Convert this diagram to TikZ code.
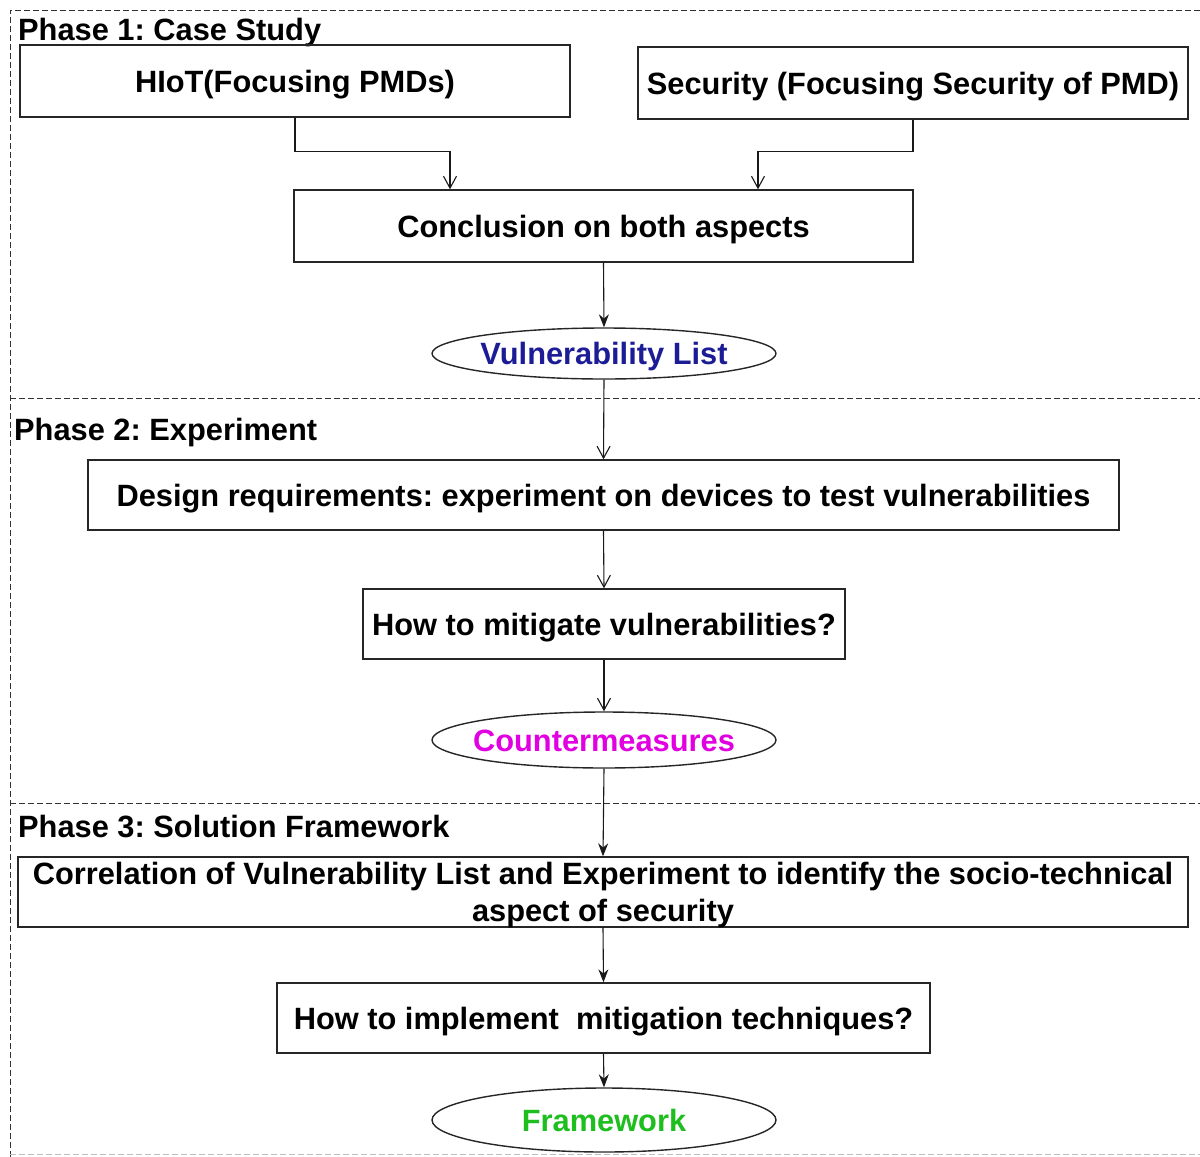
\documentclass[tikz,border=0pt]{standalone}
\usepackage{fontspec}
\setmainfont{Liberation Sans}
\usetikzlibrary{arrows.meta,shapes.geometric}
\definecolor{vulnblue}{RGB}{28,28,150}
\definecolor{cmagenta}{RGB}{225,0,225}
\definecolor{fwgreen}{RGB}{30,190,30}
\frenchspacing
% ellipse label of zero width, so the ellipse keeps its set size
\newcommand{\outcometext}[1]{\makebox[0pt]{#1}}
\begin{document}
\begin{tikzpicture}[x=1pt,y=-1pt,
  every node/.style={font=\fontsize{30.8}{37}\selectfont\bfseries},
  capcentred/.style={text height=22pt, text depth=0pt},
  stepbox/.style={draw=black!85, line width=1.4pt, inner sep=0pt, capcentred},
  outcome/.style={ellipse, draw=black!85, line width=1.4pt, inner sep=0pt, minimum width=344pt, capcentred},
  phase/.style={anchor=west, inner sep=0pt, capcentred},
  phaseframe/.style={dash pattern=on 6pt off 3pt, line width=1pt, draw=black!80},
  flow/.style={line width=1.1pt, draw=black!90, -{Stealth[length=13pt,width=10pt]}},
  openflow/.style={line width=1.1pt, draw=black!90, -{Straight Barb[length=12pt,width=13pt]}}]
\useasboundingbox (0,0) rectangle (1200,1157);

% phase frames
\draw[phaseframe] (1200,10) -- (10,10) -- (10,1157);
\draw[phaseframe] (10,398) -- (1200,398);
\draw[phaseframe] (10,803) -- (1200,803);
\draw[phaseframe, draw=black!25] (10,1154) -- (1200,1154);

% phase titles
\node[phase] (p1) at (18,29) {Phase 1: Case Study};
\node[phase] (p2) at (14,429) {Phase 2: Experiment};
\node[phase] (p3) at (18,826) {Phase 3: Solution Framework};

% phase 1
\node[stepbox, minimum width=550pt, minimum height=72pt] (hiot) at (295,81) {HIoT(Focusing PMDs)};
\node[stepbox, minimum width=550pt, minimum height=72pt] (sec) at (913,83) {Security (Focusing Security of PMD)};
\node[stepbox, minimum width=619pt, minimum height=72pt] (concl) at (603.5,226) {Conclusion on both aspects};
\node[outcome, minimum height=51pt, text=vulnblue] (vuln) at (604,353.5) {\outcometext{Vulnerability List}};

% phase 2
\node[stepbox, minimum width=1031pt, minimum height=70pt] (design) at (603.5,495) {Design requirements: experiment on devices to test vulnerabilities};
\node[stepbox, minimum width=482pt, minimum height=70pt] (mitig) at (604,624) {How to mitigate vulnerabilities?};
\node[outcome, minimum height=56pt, text=cmagenta] (counter) at (604,740) {\outcometext{Countermeasures}};

% phase 3: two-line box, its text set separately
\node[stepbox, minimum width=1170pt, minimum height=70pt] (corr) at (603,892) {};
\node[align=center, inner sep=0pt] (corrtext) at ([yshift=-3pt]corr.center) {Correlation of Vulnerability List and Experiment to identify the socio-technical\\aspect of security};
\node[stepbox, minimum width=653pt, minimum height=70pt] (impl) at (603.5,1018) {How to implement\ \ mitigation techniques?};
\node[outcome, minimum height=64pt, text=fwgreen] (fw) at (604,1120) {\outcometext{Framework}};

% connectors
\draw[openflow] (hiot.south) -- ++(0,34) -| ([xshift=-153.5pt]concl.north);
\draw[openflow] (sec.south) -- ++(0,32) -| ([xshift=154.5pt]concl.north);
\draw[flow] (concl.south) -- (vuln.north);
\draw[openflow] (vuln.south) -- (design.north);
\draw[openflow] (design.south) -- (mitig.north);
\draw[openflow] (mitig.south) -- (counter.north);
\draw[flow] (counter.south) -- (corr.north);
\draw[flow] (corr.south) -- (impl.north);
\draw[flow] (impl.south) -- (fw.north);
\end{tikzpicture}
\end{document}
